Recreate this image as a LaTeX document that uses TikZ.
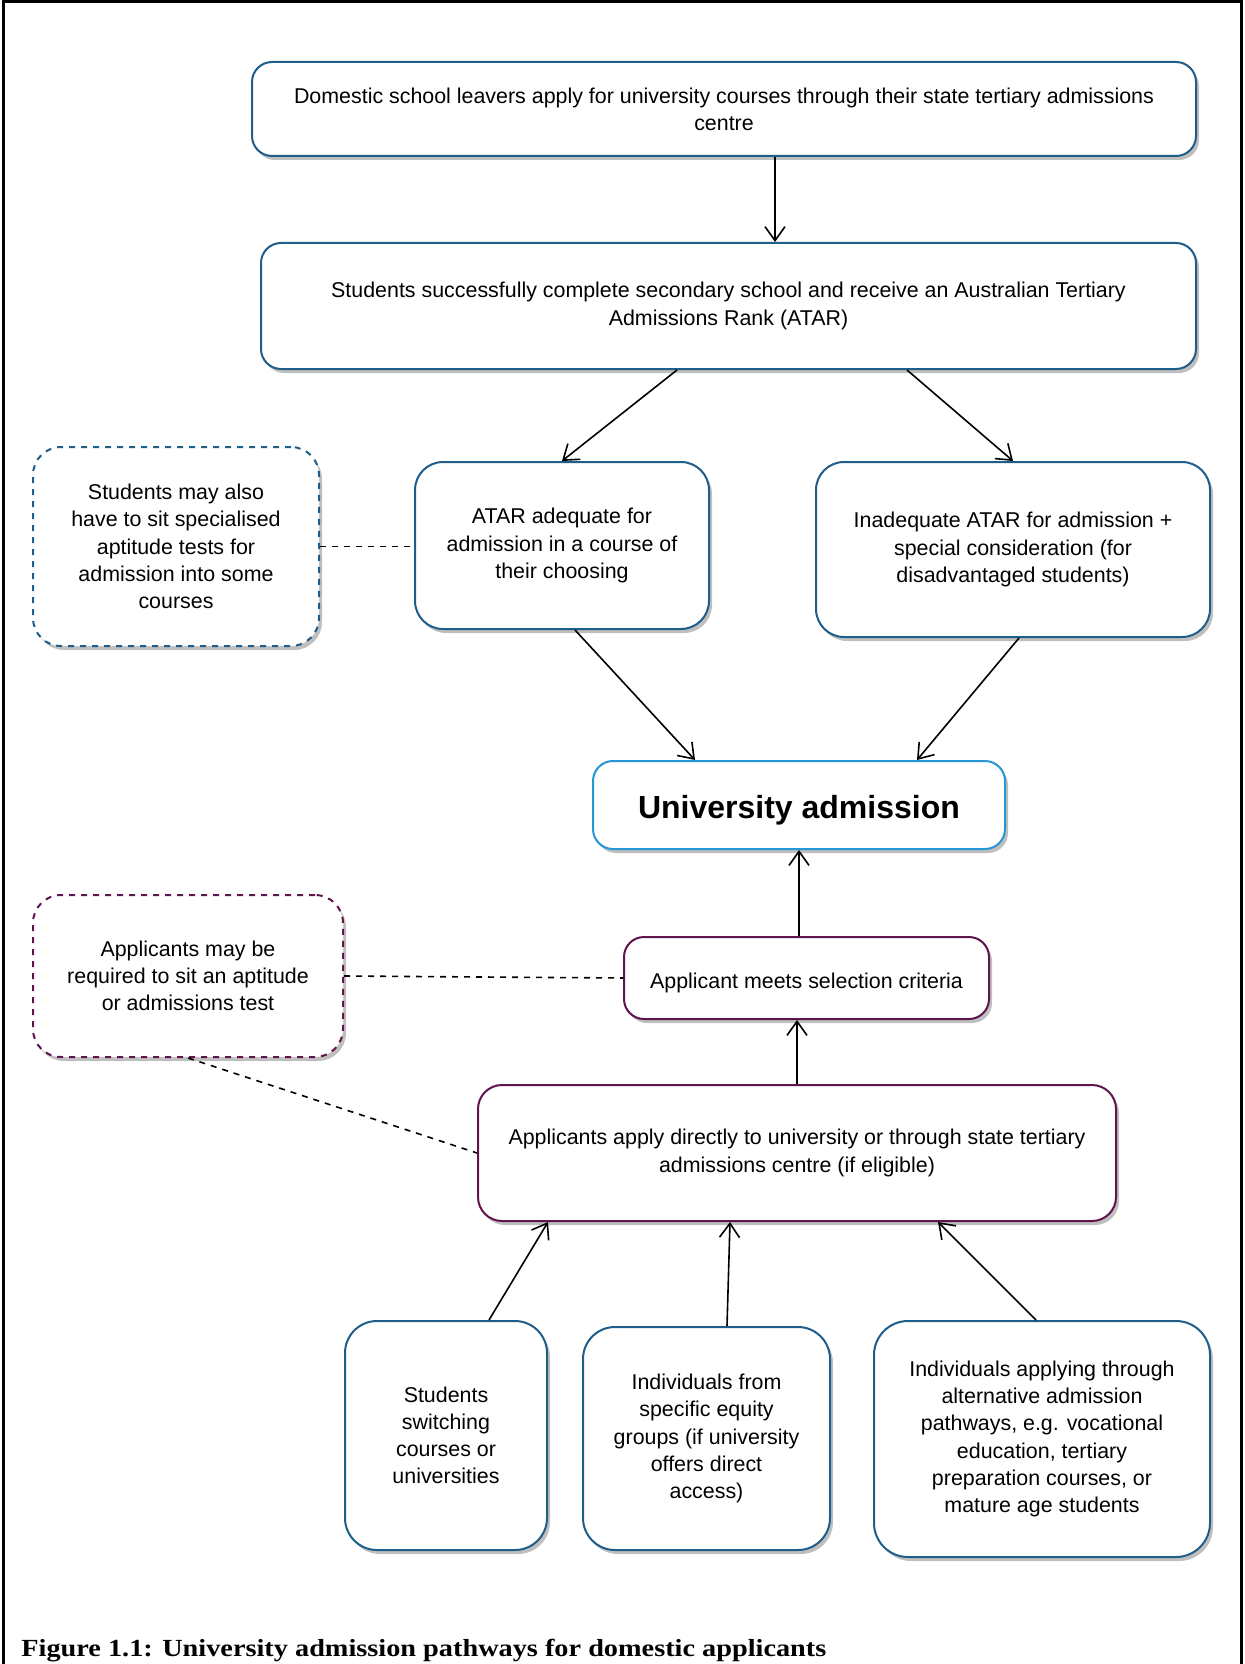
\documentclass[tikz,border=0pt]{standalone}
\usepackage{fontspec}
\setmainfont{Liberation Sans}
\newfontfamily\capfont{Liberation Serif}
\definecolor{flowblue}{RGB}{31, 93, 138}
\definecolor{goalblue}{RGB}{38, 150, 212}
\definecolor{flowpurple}{RGB}{96, 20, 78}
\usetikzlibrary{shapes, arrows.meta, positioning, calc, shadows}

\begin{document}
\begin{tikzpicture}[x=0.5pt, y=-0.5pt,
  pbox/.style={draw=flowblue, line width=1pt, fill=white, rounded corners=10pt, align=center,
    font=\fontsize{10.7}{13.6}\selectfont, inner sep=4pt,
    execute at begin node={\rule{0pt}{12.8pt}},
    drop shadow={shadow xshift=1.5pt, shadow yshift=-2pt, opacity=0.25, fill=black}},
  notebox/.style={pbox, dashed},
  arr/.style={-{Straight Barb[length=7pt, width=10pt]}, line width=0.8pt},
  link/.style={dashed, line width=0.8pt}
]
  \useasboundingbox (0,0) rectangle (1244,1664);
  \draw[line width=1.5pt] (3,1664) -- (3,2) -- (1241,2) -- (1241,1664);

  % school leaver route
  \node[pbox, minimum width=472pt, minimum height=47pt] (leavers) at (724,109)
    {Domestic school leavers apply for university courses through their state tertiary admissions\\centre};
  \node[pbox, minimum width=467.5pt, minimum height=63pt] (atar) at (728.5,306)
    {Students successfully complete secondary school and receive an Australian Tertiary\\Admissions Rank (ATAR)};
  \node[pbox, rounded corners=14pt, minimum width=147pt, minimum height=83.5pt] (adequate) at (562,545.5)
    {ATAR adequate for\\admission in a course of\\their choosing};
  \node[pbox, rounded corners=14pt, minimum width=197pt, minimum height=87.5pt] (inadequate) at (1013,549.5)
    {Inadequate ATAR for admission +\\special consideration (for\\disadvantaged students)};
  \node[notebox, rounded corners=14pt, minimum width=143pt, minimum height=99.5pt] (aptitude) at (176,546.5)
    {Students may also\\have to sit specialised\\aptitude tests for\\admission into some\\courses};

  \node[pbox, draw=goalblue, minimum width=206pt, minimum height=44pt,
    font=\fontsize{16}{19}\selectfont\bfseries, execute at begin node={\rule{0pt}{16.5pt}}] (admission) at (799,805)
    {University admission};

  % direct route
  \node[pbox, draw=flowpurple, minimum width=182.5pt, minimum height=41pt] (criteria) at (806.5,978)
    {Applicant meets selection criteria};
  \node[notebox, draw=flowpurple, rounded corners=14pt, minimum width=155pt, minimum height=81pt] (testnote) at (188,976)
    {Applicants may be\\required to sit an aptitude\\or admissions test};
  \node[pbox, draw=flowpurple, rounded corners=12pt, minimum width=319pt, minimum height=68pt] (direct) at (797,1153)
    {Applicants apply directly to university or through state tertiary\\admissions centre (if eligible)};

  \node[pbox, rounded corners=16pt, minimum width=101pt, minimum height=114.5pt] (switching) at (446,1435.5)
    {Students\\switching\\courses or\\universities};
  \node[pbox, rounded corners=16pt, minimum width=123.5pt, minimum height=111.5pt] (equity) at (706.5,1438.5)
    {Individuals from\\specific equity\\groups (if university\\offers direct\\access)};
  \node[pbox, rounded corners=17pt, minimum width=168pt, minimum height=118pt] (alternative) at (1042,1439)
    {Individuals applying through\\alternative admission\\pathways, e.g. vocational\\education, tertiary\\preparation courses, or\\mature age students};

  \draw[arr] ([xshift=25.5pt]leavers.south) -- ([xshift=23.25pt]atar.north);
  \draw[arr] ([xshift=-25.75pt]atar.south) -- (adequate.north);
  \draw[arr] ([xshift=89.25pt]atar.south) -- (inadequate.north);
  \draw[arr] ([xshift=6.5pt]adequate.south) -- ([xshift=-52pt]admission.north);
  \draw[arr] ([xshift=3pt]inadequate.south) -- ([xshift=59pt]admission.north);
  \draw[arr] (criteria.north -| admission.south) -- (admission.south);
  \draw[arr] (direct.north) -- (direct.north |- criteria.south);
  \draw[arr] ([xshift=21.5pt]switching.north) -- ([xshift=-124.5pt]direct.south);
  \draw[arr] ([xshift=10.25pt]equity.north) -- ([xshift=-33.5pt]direct.south);
  \draw[arr] ([xshift=-3pt]alternative.north) -- ([xshift=70.5pt]direct.south);

  \draw[link] (aptitude.east) -- (aptitude.east -| adequate.west);
  \draw[link] (testnote.east) -- (criteria.west);
  \draw[link] (testnote.south) -- (direct.west);

  \node[anchor=base west, inner xsep=0pt, font=\capfont\fontsize{12.3}{14}\selectfont\bfseries] (caption) at (21,1656)
    {\scalebox{1.15}[1]{Figure 1.1: University admission pathways for domestic applicants}};
\end{tikzpicture}
\end{document}
